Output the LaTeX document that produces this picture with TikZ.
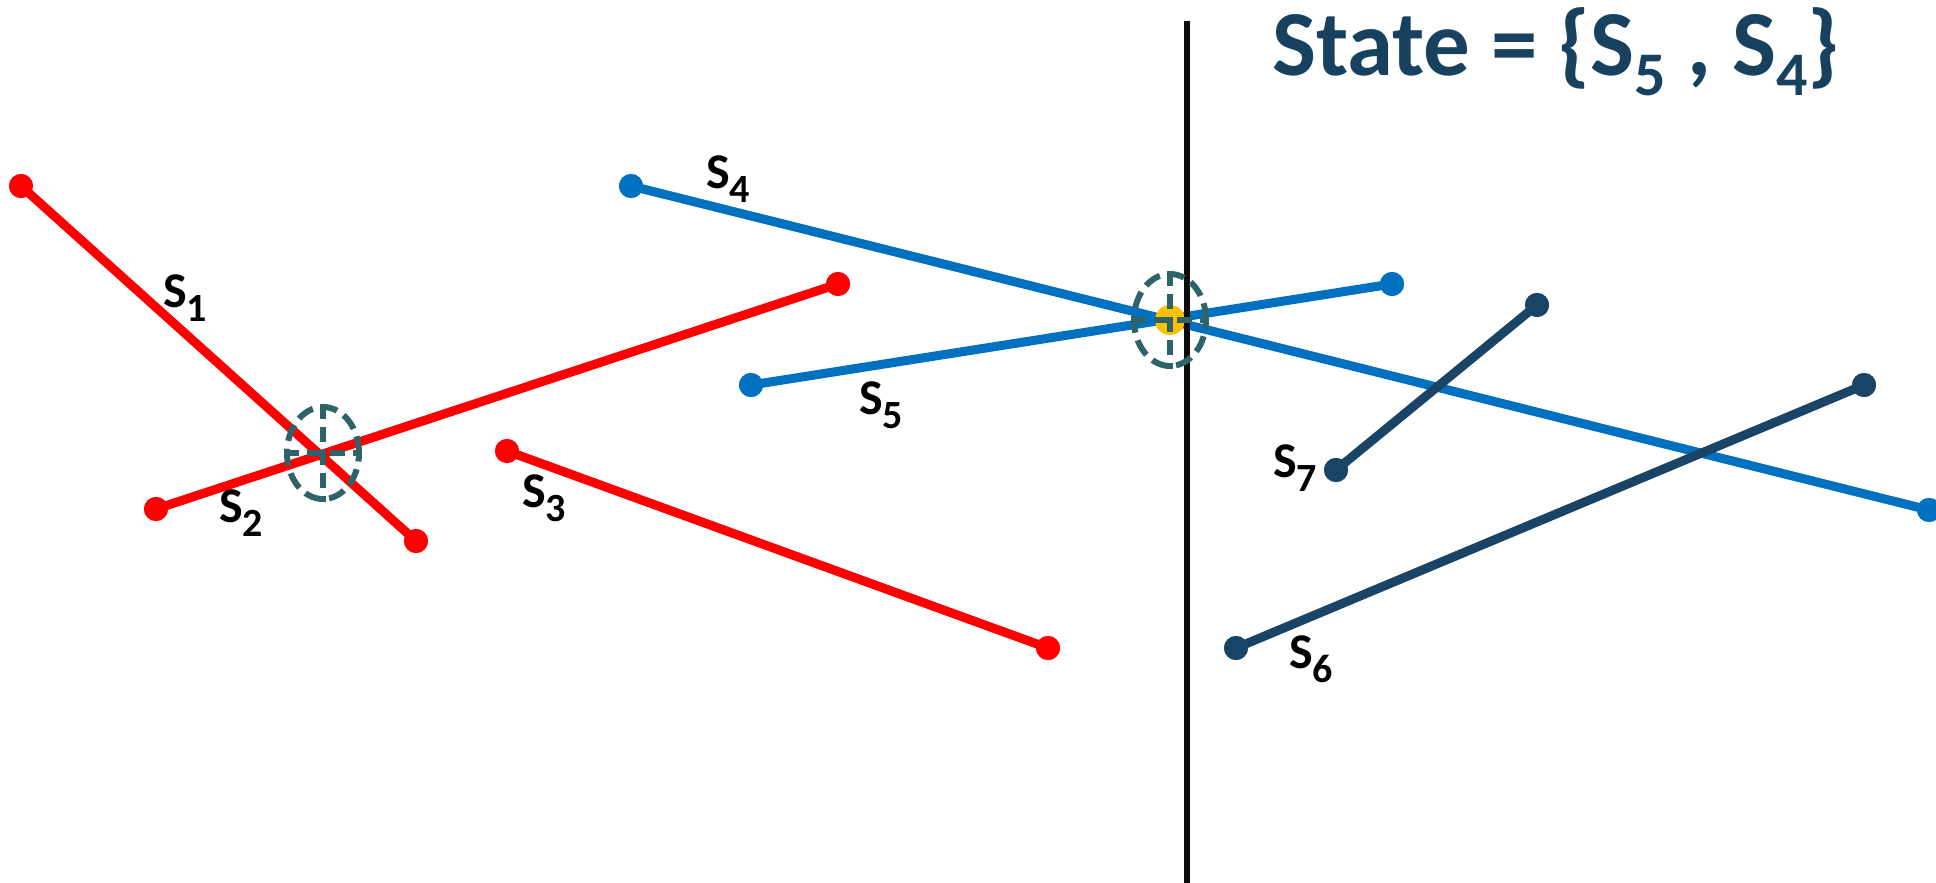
\documentclass[tikz,border=0pt]{standalone}
\usepackage{fontspec}
\setmainfont{Carlito}[BoldFont={Carlito Bold}]
\definecolor{segred}{HTML}{FF0000}
\definecolor{segblue}{HTML}{0070C0}
\definecolor{segnavy}{HTML}{1A4466}
\definecolor{titlecol}{HTML}{17415F}
\definecolor{ringcol}{HTML}{2E6469}
\definecolor{hitcol}{HTML}{FFC000}
\newcommand\Sx[1]{S\raisebox{-0.27em}{\fontsize{40}{44}\selectfont #1}}
\newcommand\Tx[1]{S\raisebox{-0.22em}{\fontsize{62}{70}\selectfont #1}}
\tikzset{
  seg/.style={line width=9pt},
  endpt/.style={circle,fill=#1,minimum size=24pt,inner sep=0pt},
  lbl/.style={font=\fontsize{50}{56}\selectfont\bfseries,text=black,inner sep=0pt},
  ring/.style={ellipse,draw=ringcol,line width=6pt,dash pattern=on 17pt off 8pt,minimum width=72pt,minimum height=92pt,inner sep=0pt},
  cross/.style={draw=ringcol,line width=6pt,dash pattern=on 15pt off 8pt},
}
\usetikzlibrary{shapes.geometric}
\begin{document}
\begin{tikzpicture}[x=1pt,y=-1pt]
\useasboundingbox (0,0) rectangle (1936,883);
% endpoints
\node[endpt=segred] (s1a) at (21,186) {};
\node[endpt=segred] (s1b) at (416,541) {};
\node[endpt=segred] (s2a) at (156,509) {};
\node[endpt=segred] (s2b) at (838,284) {};
\node[endpt=segred] (s3a) at (507,451) {};
\node[endpt=segred] (s3b) at (1048,648) {};
\node[endpt=segblue] (s4a) at (631,186) {};
\node[endpt=segblue] (s4b) at (1929,510) {};
\node[endpt=segblue] (s5a) at (751,385) {};
\node[endpt=segblue] (s5b) at (1392,284) {};
\node[endpt=segnavy] (s6a) at (1236,648) {};
\node[endpt=segnavy] (s6b) at (1864,385) {};
\node[endpt=segnavy] (s7a) at (1336,470) {};
\node[endpt=segnavy] (s7b) at (1537,305) {};
% segments
\draw[seg,segred] (s1a.center) -- (s1b.center);
\draw[seg,segred] (s2a.center) -- (s2b.center);
\draw[seg,segred] (s3a.center) -- (s3b.center);
\draw[seg,segblue] (s4a.center) -- (s4b.center);
\draw[seg,segblue] (s5a.center) -- (s5b.center);
\draw[seg,segnavy] (s6a.center) -- (s6b.center);
\draw[seg,segnavy] (s7a.center) -- (s7b.center);
% redraw dots on top
\foreach \n/\c in {s1a/segred,s1b/segred,s2a/segred,s2b/segred,s3a/segred,s3b/segred,s4a/segblue,s4b/segblue,s5a/segblue,s5b/segblue,s6a/segnavy,s6b/segnavy,s7a/segnavy,s7b/segnavy}
  \fill[\c] (\n) circle[radius=12pt];
% intersection highlight
\node[circle,fill=hitcol,minimum size=30pt,inner sep=0pt] (hit) at (1170,320) {};
% sweep line
\coordinate (vtop) at (1187,21);
\coordinate (vbot) at (1187,883);
\draw[line width=6pt,black!95] (vtop) -- (vbot);
% rings
\node[ring] (r1) at (323,453) {};
\draw[cross] (r1.north) -- (r1.south);
\draw[cross] (r1.west) -- (r1.east);
\node[ring] (r2) at (1170,320) {};
\draw[cross] (r2.north) -- (r2.south);
\draw[cross] (r2.west) -- (r2.east);
% labels
\node[lbl] (l1) at (185,298) {\Sx{1}};
\node[lbl] (l2) at (241,513) {\Sx{2}};
\node[lbl] (l3) at (544,498) {\Sx{3}};
\node[lbl] (l4) at (728,179) {\Sx{4}};
\node[lbl] (l5) at (881,405) {\Sx{5}};
\node[lbl] (l6) at (1311,659) {\Sx{6}};
\node[lbl] (l7) at (1295,468) {\Sx{7}};
% title
\node[font=\fontsize{93}{110}\selectfont\bfseries,text=titlecol,inner sep=0pt,anchor=base] (title) at (1556,75) {State = \{\Tx{5} , \Tx{4}\}};
\end{tikzpicture}
\end{document}
